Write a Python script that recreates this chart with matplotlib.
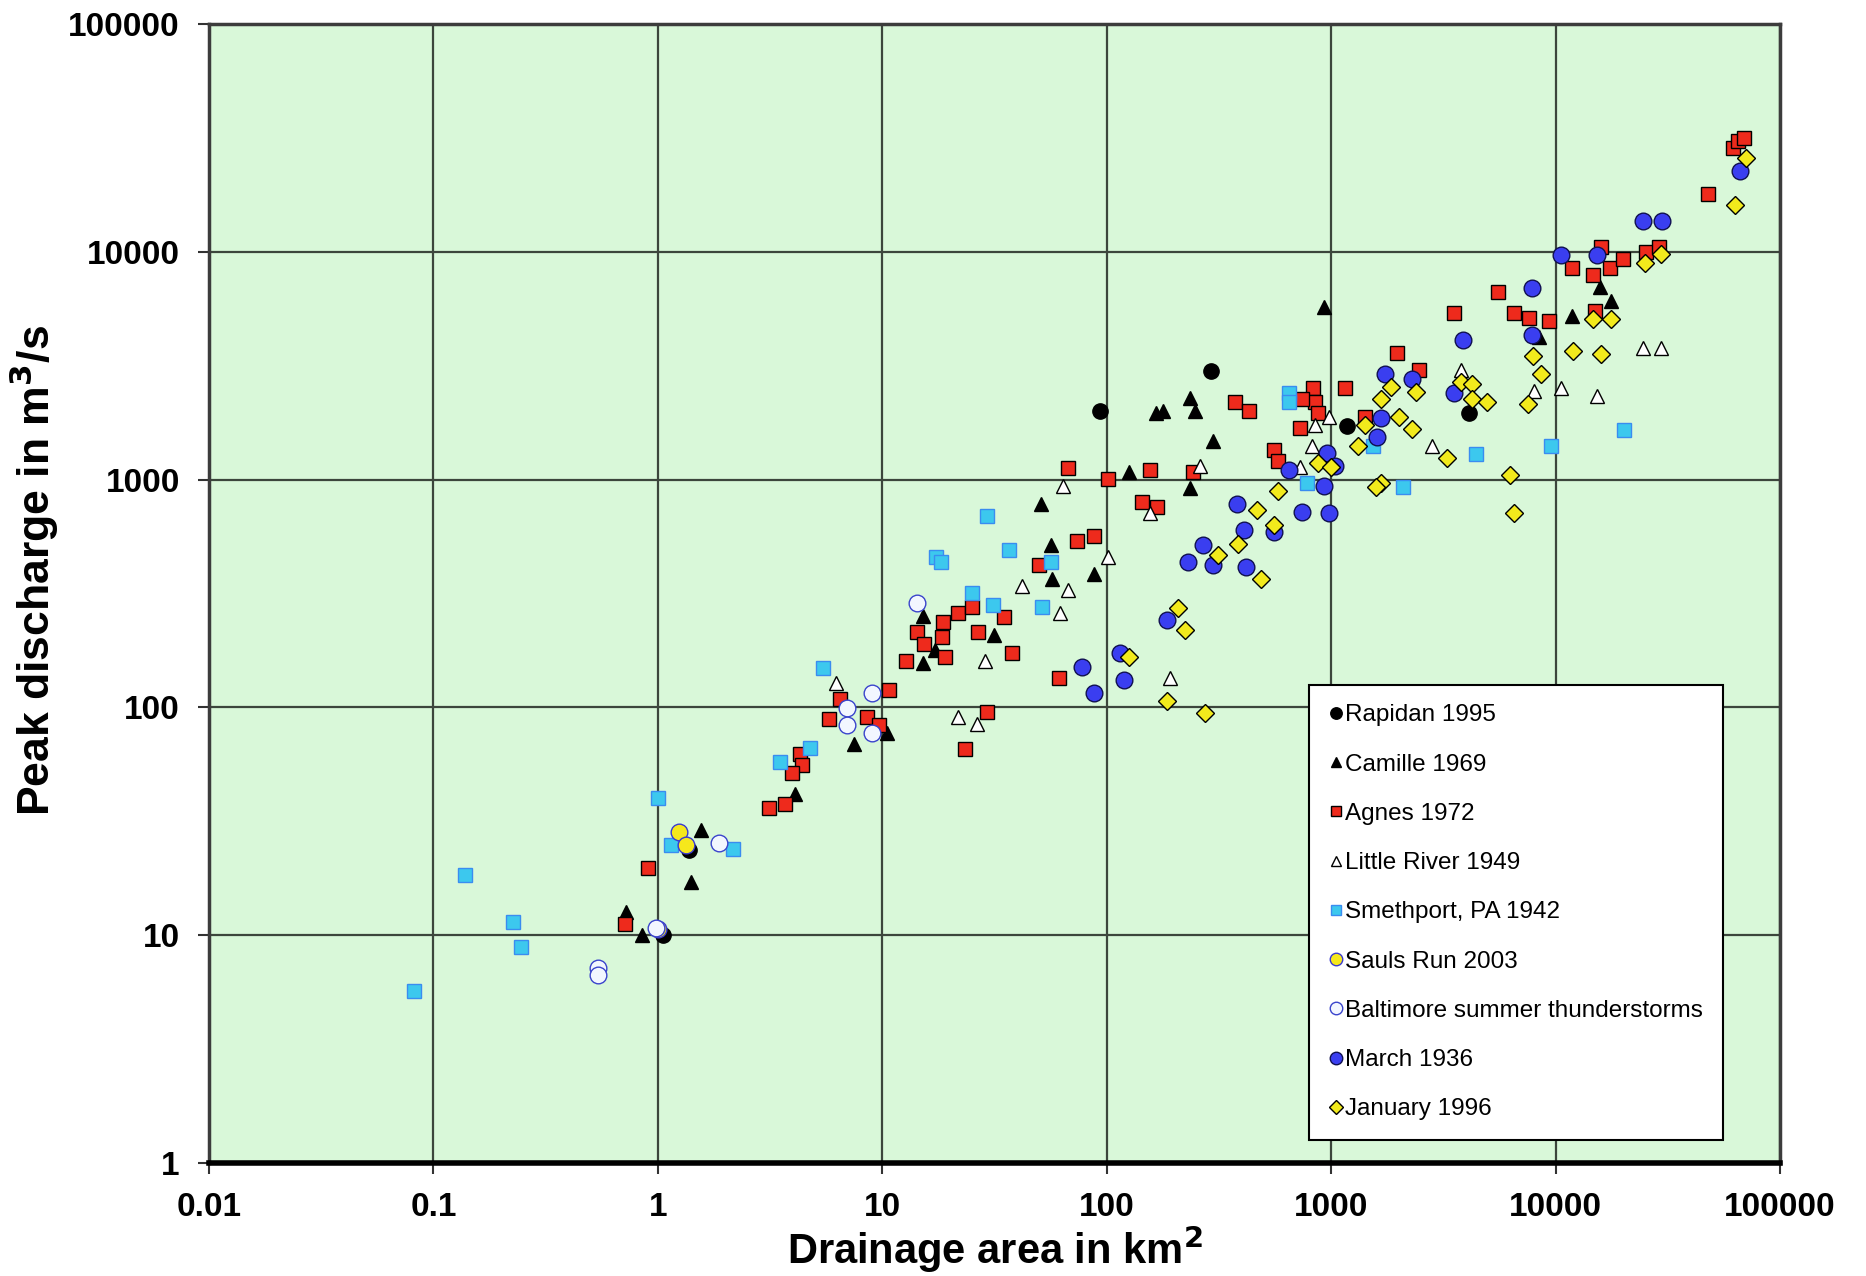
import matplotlib.pyplot as plt
from matplotlib.ticker import FixedLocator, FixedFormatter, NullLocator

plt.rcParams['font.family'] = ['Liberation Sans', 'DejaVu Sans']

# Rapidan 1995
rapidan_area = [93, 290, 1180, 4100, 1.05, 1.38]
rapidan_q = [2000, 3000, 1710, 1960, 10, 23.7]

# Camille 1969
camille_area = [925, 15800, 17700, 11800, 8400, 235, 247, 165, 178, 297, 125, 235,
                51, 56.5, 57, 88, 15.1, 17.1, 15.1, 31.5, 7.45, 10.5, 4.1, 1.56,
                1.4, 0.72, 0.85]
camille_q = [5700, 7000, 6100, 5250, 4230, 2290, 2000, 1960, 2000, 1470, 1080, 917,
             783, 515, 367, 385, 253, 179, 157, 207, 69, 77, 41.7, 29,
             17.1, 12.7, 10]

# Agnes 1972
agnes_area = [15850, 11800, 14600, 17500, 20000, 25200, 28800, 5560, 6500, 7620,
              9380, 3530, 14900, 1970, 2450, 1150, 828, 849, 741, 869, 725, 1420,
              374, 428, 553, 581, 156, 101, 241, 143, 167, 67, 74, 88, 50, 61,
              29.2, 23.4, 21.8, 18.6, 18.4, 14.2, 15.3, 19.1, 12.7, 26.8, 34.7,
              37.8, 25.2, 10.7, 6.45, 5.77, 8.53, 9.64, 4.3, 4.4, 3.95, 3.13,
              3.67, 0.9, 0.71, 47500, 61400, 65000, 69300]
agnes_q = [10500, 8490, 7900, 8490, 9250, 9930, 10500, 6670, 5370, 5130,
           4950, 5370, 5500, 3610, 3020, 2520, 2520, 2180, 2260, 1960, 1690, 1890,
           2180, 2000, 1350, 1210, 1100, 1010, 1080, 794, 757, 1120, 540, 566, 420, 134,
           95.5, 65.8, 259, 238, 204, 214, 190, 166, 160, 214, 250,
           174, 275, 119, 109, 88.7, 91, 83.5, 62.7, 55.6, 51.7, 36,
           37.8, 19.8, 11.2, 17900, 28600, 30500, 31500]

# Little River 1949
little_area = [63.8, 156, 101, 41.7, 67, 62, 28.8, 21.8, 26.5, 191, 6.2, 260,
               818, 849, 982, 725, 2800, 3800, 8020, 10600, 15300, 24600, 29500]
little_q = [940, 713, 456, 342, 326, 259, 160, 91, 84.7, 134, 128, 1150,
            1410, 1730, 1890, 1140, 1400, 3020, 2460, 2520, 2320, 3800, 3800]

# Smethport, PA 1942
smeth_area = [29.2, 36.8, 17.3, 18.2, 56.5, 51.3, 25.2, 31, 5.42, 4.74, 3.5, 1.0,
              0.138, 0.227, 0.245, 0.082, 1.14, 2.17, 649, 649, 778, 1540, 2090,
              4400, 9500, 20200]
smeth_q = [695, 491, 456, 434, 434, 275, 318, 282, 149, 66.6, 57.7, 40.2,
           18.4, 11.4, 8.9, 5.7, 24.8, 24, 2400, 2180, 962, 1410, 929,
           1300, 1410, 1650]

# Sauls Run 2003
sauls_area = [1.24, 1.33, 1.0]
sauls_q = [28.3, 24.8, 10.6]

# Baltimore summer thunderstorms
balt_area = [0.54, 0.54, 1.87, 6.93, 6.93, 8.96, 8.96, 14.2, 0.98]
balt_q = [7.2, 6.7, 25.4, 99, 83.6, 116, 77, 286, 10.8]

# March 1936
march_area = [24600, 29900, 10600, 15300, 7810, 7810, 3850, 1740, 2280, 3530,
              1660, 1600, 957, 1040, 649, 925, 741, 982, 379, 408, 553, 269,
              230, 297, 418, 185, 115, 119, 77.6, 87.7, 66000]
march_q = [13600, 13700, 9680, 9680, 6920, 4320, 4120, 2910, 2770, 2400,
           1860, 1540, 1310, 1150, 1100, 940, 721, 713, 783, 601, 587, 515,
           434, 420, 415, 241, 174, 132, 151, 116, 22700]

# January 1996
jan_area = [63000, 70300, 24900, 29500, 14700, 17700, 12000, 15850, 7900, 8610,
            7530, 3800, 4250, 4250, 4920, 1850, 1660, 2390, 2000, 2280, 1420,
            1310, 3290, 869, 993, 1660, 1580, 6270, 6500, 581, 467, 553, 384,
            312, 484, 208, 222, 126, 185, 273]
jan_q = [16100, 25700, 8920, 9820, 5060, 5060, 3660, 3570, 3480, 2910,
         2150, 2670, 2640, 2260, 2180, 2550, 2260, 2430, 1890, 1670, 1730,
         1400, 1240, 1180, 1140, 962, 929, 1050, 713, 895, 738, 631, 521,
         468, 367, 272, 219, 166, 107, 94]

xticks = [0.01, 0.1, 1, 10, 100, 1000, 10000, 100000]
xtick_labels = ['0.01', '0.1', '1', '10', '100', '1000', '10000', '100000']
yticks = [1, 10, 100, 1000, 10000, 100000]
ytick_labels = ['1', '10', '100', '1000', '10000', '100000']

fig = plt.figure(figsize=(18.66, 12.76), dpi=100)
ax = fig.add_axes([0.112, 0.0886, 0.842, 0.8926])
ax.set_facecolor('#d9f8d9')
ax.set_xscale('log')
ax.set_yscale('log')
ax.set_xlim(0.01, 100000)
ax.set_ylim(1, 100000)

series = [
    (rapidan_area, rapidan_q, 'o', 11, 'black', 'black', 'Rapidan 1995'),
    (camille_area, camille_q, '^', 10, 'black', 'black', 'Camille 1969'),
    (agnes_area, agnes_q, 's', 10, '#ee2a1c', 'black', 'Agnes 1972'),
    (little_area, little_q, '^', 10, 'white', 'black', 'Little River 1949'),
    (smeth_area, smeth_q, 's', 10, '#3cc8ee', '#3a8cf0', 'Smethport, PA 1942'),
    (sauls_area, sauls_q, 'o', 12, '#f6e81c', '#3a3ad0', 'Sauls Run 2003'),
    (balt_area, balt_q, 'o', 12, '#f2f6ff', '#3a44cc', 'Baltimore summer thunderstorms'),
    (march_area, march_q, 'o', 12, '#3a3ef0', '#101050', 'March 1936'),
    (jan_area, jan_q, 'D', 9, '#f2ea1c', 'black', 'January 1996'),
]

for xs, ys, m, ms, fc, ec, lab in series:
    ax.plot(xs, ys, linestyle='none', marker=m, markersize=ms,
            markerfacecolor=fc, markeredgecolor=ec, markeredgewidth=1.0,
            label=lab, zorder=3)

ax.grid(True, which='major', color='#3c463c', linewidth=1.6, zorder=1)
ax.set_axisbelow(True)
ax.xaxis.set_major_locator(FixedLocator(xticks))
ax.xaxis.set_major_formatter(FixedFormatter(xtick_labels))
ax.yaxis.set_major_locator(FixedLocator(yticks))
ax.yaxis.set_major_formatter(FixedFormatter(ytick_labels))
ax.xaxis.set_minor_locator(NullLocator())
ax.yaxis.set_minor_locator(NullLocator())
ax.tick_params(axis='both', direction='out', length=8, width=1.5, color='#333333',
               labelsize=24)
ax.tick_params(axis='x', pad=13)
ax.tick_params(axis='y', pad=13)
for lbl in ax.get_xticklabels() + ax.get_yticklabels():
    lbl.set_fontweight('bold')

for side in ['top', 'right', 'left']:
    ax.spines[side].set_color('#3c3c3c')
    ax.spines[side].set_linewidth(2.5)
ax.spines['bottom'].set_color('black')
ax.spines['bottom'].set_linewidth(4)

ax.set_xlabel('Drainage area in km$^\\mathbf{2}$', fontsize=30, fontweight='bold', labelpad=0)
ax.set_ylabel('Peak discharge in m$^\\mathbf{3}$/s', fontsize=32, fontweight='bold')
ax.yaxis.set_label_coords(-0.094, 0.52)

leg = ax.legend(loc='upper left', bbox_to_anchor=(0.700, 0.4197), fontsize=17.5,
                frameon=True, fancybox=False, edgecolor='black', framealpha=1,
                labelspacing=1.12, handlelength=0.6, handletextpad=0.1,
                borderpad=0.8, borderaxespad=0, markerscale=0.75)
leg.get_frame().set_linewidth(1.5)

fig.savefig('out.png', dpi=100)
